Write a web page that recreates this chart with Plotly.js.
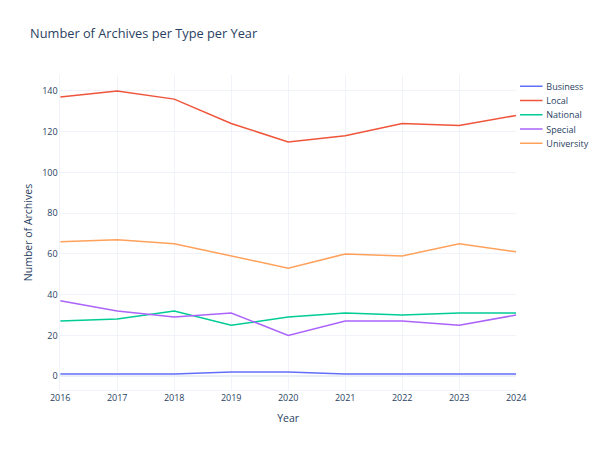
<!DOCTYPE html>
<html>
<head>
<meta charset="utf-8">
<script src="https://cdn.plot.ly/plotly-3.0.1.min.js"></script>
<style>
html,body{margin:0;padding:0;background:#fff;overflow:hidden;width:602px;height:451px;}
#chart{width:800px;height:600px;transform:scale(0.7525);transform-origin:0 0;}
</style>
</head>
<body>
<div id="chart"></div>
<script>
const years = [2016, 2017, 2018, 2019, 2020, 2021, 2022, 2023, 2024];
const business = [1, 1, 1, 2, 2, 1, 1, 1, 1];
const local = [137, 140, 136, 124, 115, 118, 124, 123, 128];
const national = [27, 28, 32, 25, 29, 31, 30, 31, 31];
const special = [37, 32, 29, 31, 20, 27, 27, 25, 30];
const university = [66, 67, 65, 59, 53, 60, 59, 65, 61];

const seriesNames = ['Business', 'Local', 'National', 'Special', 'University'];
const seriesValues = [business, local, national, special, university];
const colors = ['#636efa', '#EF553B', '#00cc96', '#ab63fa', '#FFA15A'];

const traces = seriesNames.map((n, i) => ({
  x: years, y: seriesValues[i], name: n, type: 'scatter', mode: 'lines',
  line: {color: colors[i], width: 2}
}));

const layout = {
  width: 800, height: 600,
  margin: {l: 80, r: 114, t: 100, b: 82, autoexpand: false},
  paper_bgcolor: '#fff', plot_bgcolor: '#fff',
  font: {family: '"Open Sans", verdana, arial, sans-serif', color: '#2a3f5f', size: 12},
  title: {text: 'Number of Archives per Type per Year', x: 0.05, font: {size: 17}},
  xaxis: {title: {text: 'Year', font: {size: 14}, standoff: 14}, automargin: true, gridcolor: '#EBF0F8', linecolor: '#EBF0F8', zeroline: false, dtick: 1, ticks: ''},
  yaxis: {title: {text: 'Number of Archives', font: {size: 14}}, gridcolor: '#EBF0F8', linecolor: '#EBF0F8', zerolinecolor: '#EBF0F8', zerolinewidth: 2, ticks: ''},
  legend: {font: {size: 12}, x: 1.0, xanchor: 'left', y: 1}
};
Plotly.newPlot('chart', traces, layout, {displayModeBar: false, staticPlot: true});
</script>
</body>
</html>
